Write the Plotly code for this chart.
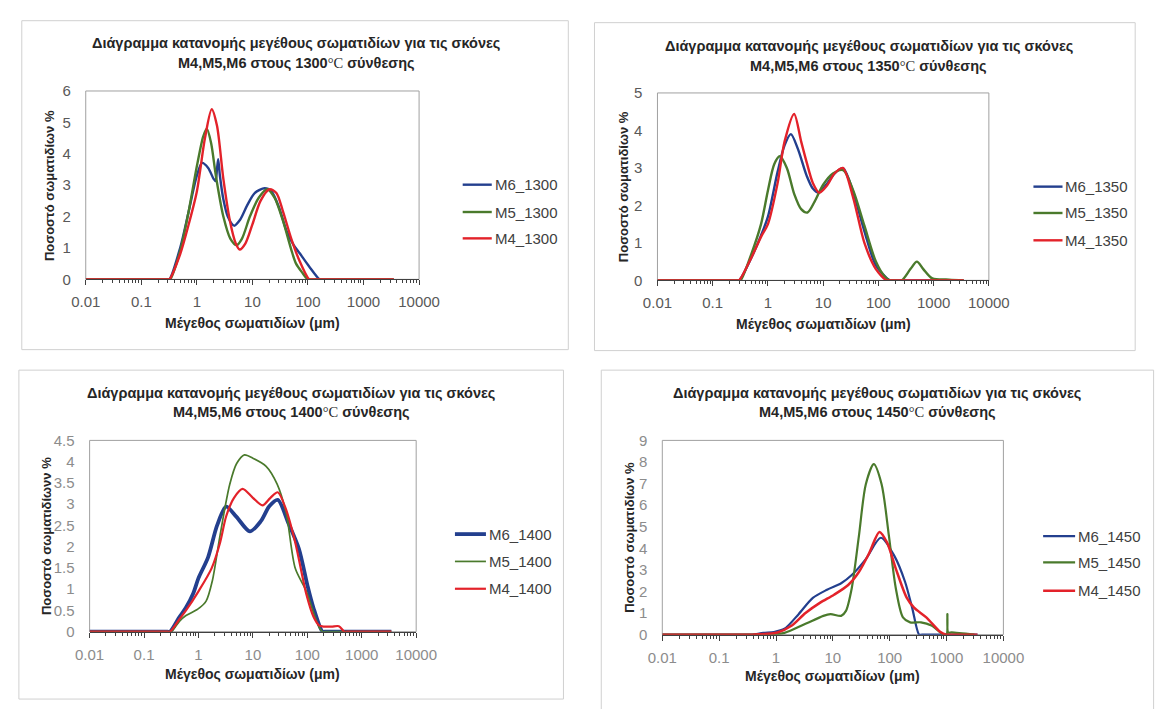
import plotly.graph_objects as go

W, H = 1162, 709

# ---------------- data (size in um, percentage) ----------------
# 1300 C
m6_1300_x = [0.01, 0.1, 0.29, 0.32, 0.5, 0.7, 1.0, 1.24, 1.6, 2.0, 2.17, 2.3, 2.42, 2.6, 3.0, 3.6, 4.67, 6.0, 8.0, 11, 16.6, 22, 30, 41, 55, 71, 105, 162, 180, 500, 3500]
m6_1300_y = [0, 0, 0, 0, 1.0, 2.1, 3.3, 3.71, 3.55, 3.2, 3.13, 3.5, 3.83, 3.3, 2.55, 2.0, 1.71, 1.9, 2.35, 2.75, 2.9, 2.8, 2.3, 1.55, 1.1, 0.83, 0.41, 0, 0, 0, 0]
m5_1300_x = [0.01, 0.1, 0.3, 0.33, 0.5, 0.7, 1.0, 1.3, 1.51, 1.8, 2.2, 3.0, 4.0, 5.19, 6.5, 9.0, 13, 18.5, 25, 35, 50, 61, 80, 98.6, 110, 500, 3500]
m5_1300_y = [0, 0, 0, 0, 0.9, 2.1, 3.6, 4.55, 4.8, 4.35, 3.3, 2.0, 1.3, 1.09, 1.3, 2.0, 2.6, 2.87, 2.6, 1.9, 0.95, 0.5, 0.2, 0, 0, 0, 0]
m4_1300_x = [0.01, 0.1, 0.29, 0.32, 0.5, 0.7, 1.0, 1.4, 1.85, 2.3, 3.0, 4.0, 5.0, 5.9, 7.5, 10, 14, 20.3, 27, 35, 50, 70, 105, 118, 500, 3500]
m4_1300_y = [0, 0, 0, 0, 0.8, 1.7, 2.8, 4.5, 5.42, 4.9, 3.2, 1.8, 1.15, 0.95, 1.15, 1.75, 2.5, 2.87, 2.75, 2.2, 1.3, 0.6, 0, 0, 0, 0]

# 1350 C
m6_1350_x = [0.01, 0.1, 0.27, 0.30, 0.5, 0.75, 1.0, 1.5, 2.0, 2.6, 3.5, 5.0, 6.5, 8.3, 12, 16, 23, 35, 56, 90, 160, 180, 500, 3500]
m6_1350_y = [0, 0, 0, 0, 0.6, 1.2, 1.7, 2.9, 3.6, 3.9, 3.5, 2.8, 2.45, 2.34, 2.6, 2.85, 2.99, 2.35, 1.3, 0.4, 0, 0, 0, 0]
m5_1350_x = [0.01, 0.1, 0.29, 0.32, 0.5, 0.75, 1.0, 1.3, 1.64, 2.2, 3.0, 4.0, 5.2, 7.0, 10, 15, 23, 35, 56, 90, 130, 160, 180, 263, 380, 498, 650, 946, 1900, 3500]
m5_1350_y = [0, 0, 0, 0, 0.7, 1.5, 2.4, 3.1, 3.31, 3.0, 2.3, 1.9, 1.81, 2.1, 2.55, 2.85, 2.94, 2.4, 1.45, 0.5, 0.1, 0, 0, 0, 0.3, 0.5, 0.3, 0.05, 0.02, 0]
m4_1350_x = [0.01, 0.1, 0.27, 0.30, 0.5, 0.75, 1.0, 1.5, 2.0, 2.98, 4.0, 5.0, 6.5, 8.5, 12, 16, 22.7, 35, 56, 90, 140, 160, 500, 3500]
m4_1350_y = [0, 0, 0, 0, 0.6, 1.16, 1.5, 2.6, 3.7, 4.44, 3.7, 3.16, 2.6, 2.34, 2.55, 2.85, 3.0, 2.2, 0.99, 0.3, 0, 0, 0, 0]

# 1400 C
m6_1400_x = [0.01, 0.1, 0.27, 0.30, 0.45, 0.59, 0.8, 1.0, 1.5, 2.2, 3.22, 5.0, 8.8, 14, 20, 28.7, 45, 70, 100, 129, 190, 210, 500, 3500]
m6_1400_y = [0, 0, 0, 0, 0.35, 0.57, 0.9, 1.26, 1.75, 2.5, 2.94, 2.7, 2.36, 2.6, 2.95, 3.1, 2.55, 1.95, 1.1, 0.57, 0, 0, 0, 0]
m5_1400_x = [0.01, 0.1, 0.29, 0.32, 0.45, 0.59, 0.97, 1.38, 1.8, 2.37, 3.0, 3.76, 5.0, 7.0, 10, 17.5, 27.9, 41, 60, 96, 130, 164, 190, 210, 500, 3500]
m5_1400_y = [0, 0, 0, 0, 0.25, 0.38, 0.53, 0.72, 1.2, 2.1, 2.85, 3.47, 3.95, 4.16, 4.08, 3.89, 3.47, 2.78, 1.49, 0.95, 0.45, 0.11, 0, 0, 0, 0]
m4_1400_x = [0.01, 0.1, 0.27, 0.30, 0.45, 0.59, 1.0, 1.74, 2.5, 3.22, 4.5, 6.46, 10, 15, 21, 28.7, 40, 60, 96, 130, 164, 200, 280, 380, 480, 540, 1000, 3500]
m4_1400_y = [0, 0, 0, 0, 0.3, 0.5, 0.95, 1.49, 2.1, 2.71, 3.15, 3.36, 3.15, 2.97, 3.15, 3.28, 2.9, 2.1, 0.88, 0.35, 0.15, 0.12, 0.12, 0.13, 0, 0, 0, 0]

# 1450 C
m6_1450_x = [0.01, 0.1, 0.35, 0.39, 0.6, 0.92, 1.41, 2.5, 4.45, 7.9, 14, 21.5, 38, 70, 120, 186, 248, 329, 370, 1000, 3500]
m6_1450_y = [0, 0, 0, 0, 0.08, 0.12, 0.27, 0.95, 1.7, 2.08, 2.38, 2.76, 3.5, 4.49, 3.66, 2.45, 1.25, 0, 0, 0, 0]
m5_1450_x = [0.01, 0.1, 0.7, 0.8, 1.41, 3.3, 6.8, 9.1, 14, 17, 21.5, 28.7, 38, 52.5, 72, 97, 128, 171, 229, 355, 543, 890, 1000, 1035, 1070, 1230, 3100]
m5_1450_y = [0, 0, 0, 0, 0.08, 0.5, 0.87, 0.95, 0.87, 1.1, 2.15, 4.56, 6.97, 7.9, 6.97, 4.56, 2.15, 0.8, 0.57, 0.57, 0.42, 0, 0, 0.95, 0.1, 0.1, 0]
m4_1450_x = [0.01, 0.1, 0.35, 0.39, 1.06, 1.9, 3.3, 5.9, 10.5, 18.6, 28.7, 44, 66, 90, 128, 200, 268, 440, 783, 980, 1100, 3500]
m4_1450_y = [0, 0, 0, 0, 0.1, 0.42, 1.0, 1.47, 1.85, 2.3, 2.9, 3.8, 4.76, 4.26, 3.06, 1.7, 1.25, 0.8, 0.12, 0, 0, 0]

x_tick_vals = [0.01, 0.1, 1, 10, 100, 1000, 10000]
x_tick_text = ["0.01", "0.1", "1", "10", "100", "1000", "10000"]

BLUE = "#233f8e"
GREEN = "#4a7a2c"
RED = "#e3222a"

title_line1 = "Διάγραμμα κατανομής μεγέθους σωματιδίων για τις σκόνες"
x_title = "Μέγεθος σωματιδίων (μm)"

panels = [
    dict(temp="1300", ytitle="Ποσοστό σωματιδίων %", ymax=6, dy=1,
         series=[("M6_1300", m6_1300_x, m6_1300_y, BLUE, 2.4),
                 ("M5_1300", m5_1300_x, m5_1300_y, GREEN, 2.4),
                 ("M4_1300", m4_1300_x, m4_1300_y, RED, 2.4)],
         box=(7, 12, 571, 349), plot=(73, 84, 417, 277), tcx=290, ty=(35, 55),
         ytx=35, xty=322, leg=(462, 492, [180, 208, 235]), tickcol="#595959"),
    dict(temp="1350", ytitle="Ποσοστό σωματιδίων %", ymax=5, dy=1,
         series=[("M6_1350", m6_1350_x, m6_1350_y, BLUE, 2.4),
                 ("M5_1350", m5_1350_x, m5_1350_y, GREEN, 2.4),
                 ("M4_1350", m4_1350_x, m4_1350_y, RED, 2.4)],
         box=(598, 14, 1156, 350), plot=(663, 86, 1005, 278), tcx=881, ty=(38, 58),
         ytx=628, xty=323, leg=(1051, 1081, [182, 209, 237]), tickcol="#595959"),
    dict(temp="1400", ytitle="Ποσοστό σωματιδίωνν %", ymax=4.5, dy=0.5,
         series=[("M6_1400", m6_1400_x, m6_1400_y, BLUE, 3.8),
                 ("M5_1400", m5_1400_x, m5_1400_y, GREEN, 1.7),
                 ("M4_1400", m4_1400_x, m4_1400_y, RED, 2.2)],
         box=(4, 370, 566, 707), plot=(77, 442, 414, 638), tcx=285, ty=(393, 413),
         ytx=32, xty=681, leg=(454, 486, [538, 566, 594]), tickcol="#8c8c8c"),
    dict(temp="1450", ytitle="Ποσοστό σωματιδίων %", ymax=9, dy=1,
         series=[("M6_1450", m6_1450_x, m6_1450_y, BLUE, 2.2),
                 ("M5_1450", m5_1450_x, m5_1450_y, GREEN, 2.2),
                 ("M4_1450", m4_1450_x, m4_1450_y, RED, 2.5)],
         box=(605, 370, 1175, 720), plot=(668, 442, 1020, 641), tcx=890, ty=(393, 413),
         ytx=634, xty=683, leg=(1061, 1094, [540, 567, 596]), tickcol="#8c8c8c"),
]

FONT = "Liberation Sans"


def px(x):
    return x / W


def py(y):
    return 1 - y / H


fig = go.Figure()
shapes = []
annotations = []
layout = {}

for i, p in enumerate(panels, start=1):
    xa = "x" if i == 1 else f"x{i}"
    ya = "y" if i == 1 else f"y{i}"
    x0, y0, x1, y1 = p["plot"]
    for name, xs, ys, col, lw in p["series"]:
        fig.add_trace(go.Scatter(x=xs, y=ys, mode="lines", name=name, xaxis=xa, yaxis=ya,
                                 line=dict(color=col, width=lw, shape="spline", smoothing=0.8),
                                 showlegend=False, hoverinfo="x+y"))
    layout["xaxis" if i == 1 else f"xaxis{i}"] = dict(
        domain=[px(x0), px(x1)], anchor=ya, type="log", range=[-2, 4],
        tickvals=x_tick_vals, ticktext=x_tick_text, ticks="outside", ticklen=5,
        tickcolor="#404040", showline=True, linecolor="#404040", linewidth=1,
        showgrid=False, zeroline=False, ticklabelstandoff=4,
        tickfont=dict(family=FONT, size=15, color=p["tickcol"]),
        minor=dict(ticks="outside", ticklen=3, tickcolor="#404040", dtick="D1", showgrid=False),
    )
    layout["yaxis" if i == 1 else f"yaxis{i}"] = dict(
        domain=[py(y1), py(y0)], anchor=xa, range=[0, p["ymax"]], dtick=p["dy"],
        tick0=0, showgrid=False, zeroline=False, showline=False,
        ticks="outside", ticklen=11, tickcolor="rgba(0,0,0,0)",
        tickfont=dict(family=FONT, size=15, color=p["tickcol"]),
    )
    # panel border
    bx0, by0, bx1, by1 = p["box"]
    shapes.append(dict(type="rect", xref="paper", yref="paper", x0=px(bx0), x1=px(bx1),
                       y0=py(by1), y1=py(by0), line=dict(color="#d0d0d0", width=1), layer="below"))
    # plot area border
    shapes.append(dict(type="rect", xref="paper", yref="paper", x0=px(x0), x1=px(x1),
                       y0=py(y1), y1=py(y0), line=dict(color="#a0a0a0", width=1), layer="below"))
    # titles
    annotations.append(dict(text=f"<b>{title_line1}</b>", x=px(p['tcx']), y=py(p['ty'][0]),
                            xref="paper", yref="paper", showarrow=False, xanchor="center", yanchor="middle",
                            font=dict(family=FONT, size=14.5, color="#262626")))
    annotations.append(dict(text=f"<b>M4,M5,M6 στους {p['temp']}<span style='font-family:Liberation Serif;font-weight:normal'>°C</span> σύνθεσης</b>",
                            x=px(p['tcx']), y=py(p['ty'][1]),
                            xref="paper", yref="paper", showarrow=False, xanchor="center", yanchor="middle",
                            font=dict(family=FONT, size=14.5, color="#262626")))
    annotations.append(dict(text=f"<b>{x_title}</b>", x=px((x0 + x1) / 2), y=py(p['xty']),
                            xref="paper", yref="paper", showarrow=False, xanchor="center", yanchor="middle",
                            font=dict(family=FONT, size=14, color="#262626")))
    annotations.append(dict(text=f"<b>{p['ytitle']}</b>", x=px(p['ytx']), y=py((y0 + y1) / 2),
                            xref="paper", yref="paper", showarrow=False, xanchor="center", yanchor="middle",
                            textangle=-90, font=dict(family=FONT, size=13, color="#262626")))
    # legend
    lx0, lx1, lys = p["leg"]
    for (name, xs, ys, col, lw), ly in zip(p["series"], lys):
        shapes.append(dict(type="line", xref="paper", yref="paper", x0=px(lx0), x1=px(lx1),
                           y0=py(ly), y1=py(ly), line=dict(color=col, width=lw)))
        annotations.append(dict(text=name, x=px(lx1 + 1), y=py(ly), xref="paper", yref="paper",
                                showarrow=False, xanchor="left", yanchor="middle",
                                font=dict(family=FONT, size=15, color="#404040")))

fig.update_layout(width=W, height=H, margin=dict(l=0, r=0, t=0, b=0),
                  paper_bgcolor="white", plot_bgcolor="white",
                  shapes=shapes, annotations=annotations, **layout)

fig.write_html("out.html")
